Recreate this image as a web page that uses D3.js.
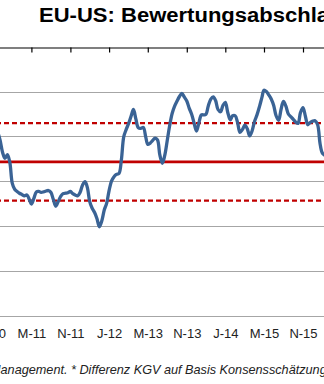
<!DOCTYPE html>
<html>
<head>
<meta charset="utf-8">
<script src="https://cdn.jsdelivr.net/npm/d3@7"></script>
<style>
  html, body { margin: 0; padding: 0; background: #fff; overflow: hidden; }
  svg { display: block; }
</style>
</head>
<body>
<svg id="chart" width="324" height="384"></svg>
<script>
// EU vs. US P/E difference (KGV-Differenz), semi-monthly observations from Aug 2010
const seriesStart = "2010-08";
const kgvDiff = [
  -1.90, -2.08, -2.36, -2.49, -2.41, -2.57, -3.05, -3.18, -3.23, -3.27,
  -3.30, -3.33, -3.31, -3.41, -3.51, -3.39, -3.24, -3.23, -3.25, -3.24,
  -3.22, -3.21, -3.25, -3.40, -3.56, -3.46, -3.34, -3.28, -3.27, -3.26,
  -3.23, -3.28, -3.31, -3.33, -3.25, -3.09, -3.01, -3.15, -3.45, -3.60,
  -3.70, -3.84, -4.02, -3.89, -3.64, -3.49, -3.21, -3.00, -2.90, -2.85,
  -2.83, -2.53, -2.01, -1.85, -1.71, -1.55, -1.40, -1.61, -1.81, -1.82,
  -1.80, -2.01, -2.18, -2.15, -2.09, -2.04, -2.08, -2.42, -2.60, -2.42,
  -2.10, -1.77, -1.49, -1.33, -1.21, -1.11, -1.04, -1.12, -1.21, -1.37,
  -1.50, -1.69, -1.88, -1.70, -1.52, -1.52, -1.51, -1.32, -1.17, -1.12,
  -1.20, -1.40, -1.45, -1.31, -1.24, -1.46, -1.63, -1.54, -1.54, -1.69,
  -1.91, -1.85, -1.75, -1.83, -1.99, -1.88, -1.66, -1.52, -1.33, -1.13,
  -0.97, -1.00, -1.08, -1.17, -1.31, -1.54, -1.64, -1.40, -1.22, -1.32,
  -1.50, -1.56, -1.62, -1.68, -1.71, -1.47, -1.36, -1.55, -1.74, -1.69,
  -1.66, -1.65, -1.74, -2.16, -2.37, -2.42, -2.46
];

// long-run average and +/- one standard deviation band
const meanValue = -2.57;
const stdDev = 0.865;

// axis ticks: every 8 months, labelled month initial + year
const tickMonths = ["2010-07", "2011-03", "2011-11", "2012-07", "2013-03", "2013-11", "2014-07", "2015-03", "2015-11"];
const tickLabels = ["J-10", "M-11", "N-11", "J-12", "M-13", "N-13", "J-14", "M-15", "N-15"];
const yTicks = [0, -1, -2, -3, -4, -5, -6];

const title = "EU-US: Bewertungsabschlag*";
const footnote = "Management. * Differenz KGV auf Basis Konsensschätzungen";

const parseMonth = d3.timeParse("%Y-%m");
const t0 = parseMonth(seriesStart);
const data = kgvDiff.map((v, i) => {
  const m = d3.timeMonth.offset(t0, Math.floor(i / 2));
  const d = new Date(m.getFullYear(), m.getMonth(), i % 2 === 0 ? 1 : 16);
  return { date: d, value: v };
});

const svg = d3.select("#chart");

const x = d3.scaleTime()
  .domain([parseMonth("2011-03"), parseMonth("2015-11")])
  .range([31.4, 303]);
const left = -12, right = 336;
const xFull = x.copy().domain([x.invert(left), x.invert(right)]).range([left, right]);

const y = d3.scaleLinear().domain([-6, 0]).range([315.5, 46.8]);

const font = "Liberation Sans, Arial, sans-serif";

// title (slightly widened face)
svg.append("text")
  .attr("transform", "translate(39,22) scale(1.13,1)")
  .attr("font-family", font)
  .attr("font-weight", "bold")
  .attr("font-size", 19.5)
  .attr("fill", "#000")
  .text(title);

// horizontal gridlines
svg.append("g")
  .selectAll("line")
  .data(yTicks.filter(v => v !== 0))
  .join("line")
  .attr("x1", left).attr("x2", right)
  .attr("y1", d => Math.round(y(d)) + 0.5)
  .attr("y2", d => Math.round(y(d)) + 0.5)
  .attr("stroke", "#A6A6A6")
  .attr("stroke-width", 1.2);

// average and deviation band
const refLines = [
  { v: meanValue, dash: null, w: 2.8 },
  { v: meanValue + stdDev, dash: "5,3", w: 2.4 },
  { v: meanValue - stdDev, dash: "5,3", w: 2.4 }
];
svg.append("g")
  .selectAll("line")
  .data(refLines)
  .join("line")
  .attr("x1", left).attr("x2", right)
  .attr("y1", d => y(d.v)).attr("y2", d => y(d.v))
  .attr("stroke", "#C00000")
  .attr("stroke-width", d => d.w)
  .attr("stroke-dasharray", d => d.dash);

// the series
const line = d3.line()
  .x(d => x(d.date))
  .y(d => y(d.value))
  .curve(d3.curveCatmullRom.alpha(0.5));

svg.append("path")
  .datum(data)
  .attr("d", line)
  .attr("fill", "none")
  .attr("stroke", "#3A6395")
  .attr("stroke-width", 3.3)
  .attr("stroke-linejoin", "round")
  .attr("stroke-linecap", "round");

// category axis along the zero line, ticks pointing into the plot
const tickDates = tickMonths.map(parseMonth);
const topAxis = svg.append("g")
  .attr("transform", `translate(0,${Math.round(y(0)) + 0.5})`)
  .call(d3.axisBottom(xFull).tickValues(tickDates).tickSizeInner(5).tickSizeOuter(0).tickFormat(""));
topAxis.select(".domain").attr("stroke", "#000").attr("stroke-width", 1.2);
topAxis.selectAll(".tick line").attr("stroke", "#000").attr("stroke-width", 1.2);

// tick labels below the plot
const labelAxis = svg.append("g")
  .attr("transform", "translate(0,326)")
  .call(d3.axisBottom(xFull).tickValues(tickDates).tickSize(0).tickFormat((d, i) => tickLabels[i]));
labelAxis.select(".domain").remove();
labelAxis.selectAll("text")
  .attr("font-family", font)
  .attr("font-size", 13)
  .attr("fill", "#222");

// source / footnote
svg.append("text")
  .attr("transform", "translate(-10,374) scale(1.015,1)")
  .attr("font-family", font)
  .attr("font-style", "italic")
  .attr("font-size", 12.5)
  .attr("fill", "#222")
  .text(footnote);
</script>
</body>
</html>
